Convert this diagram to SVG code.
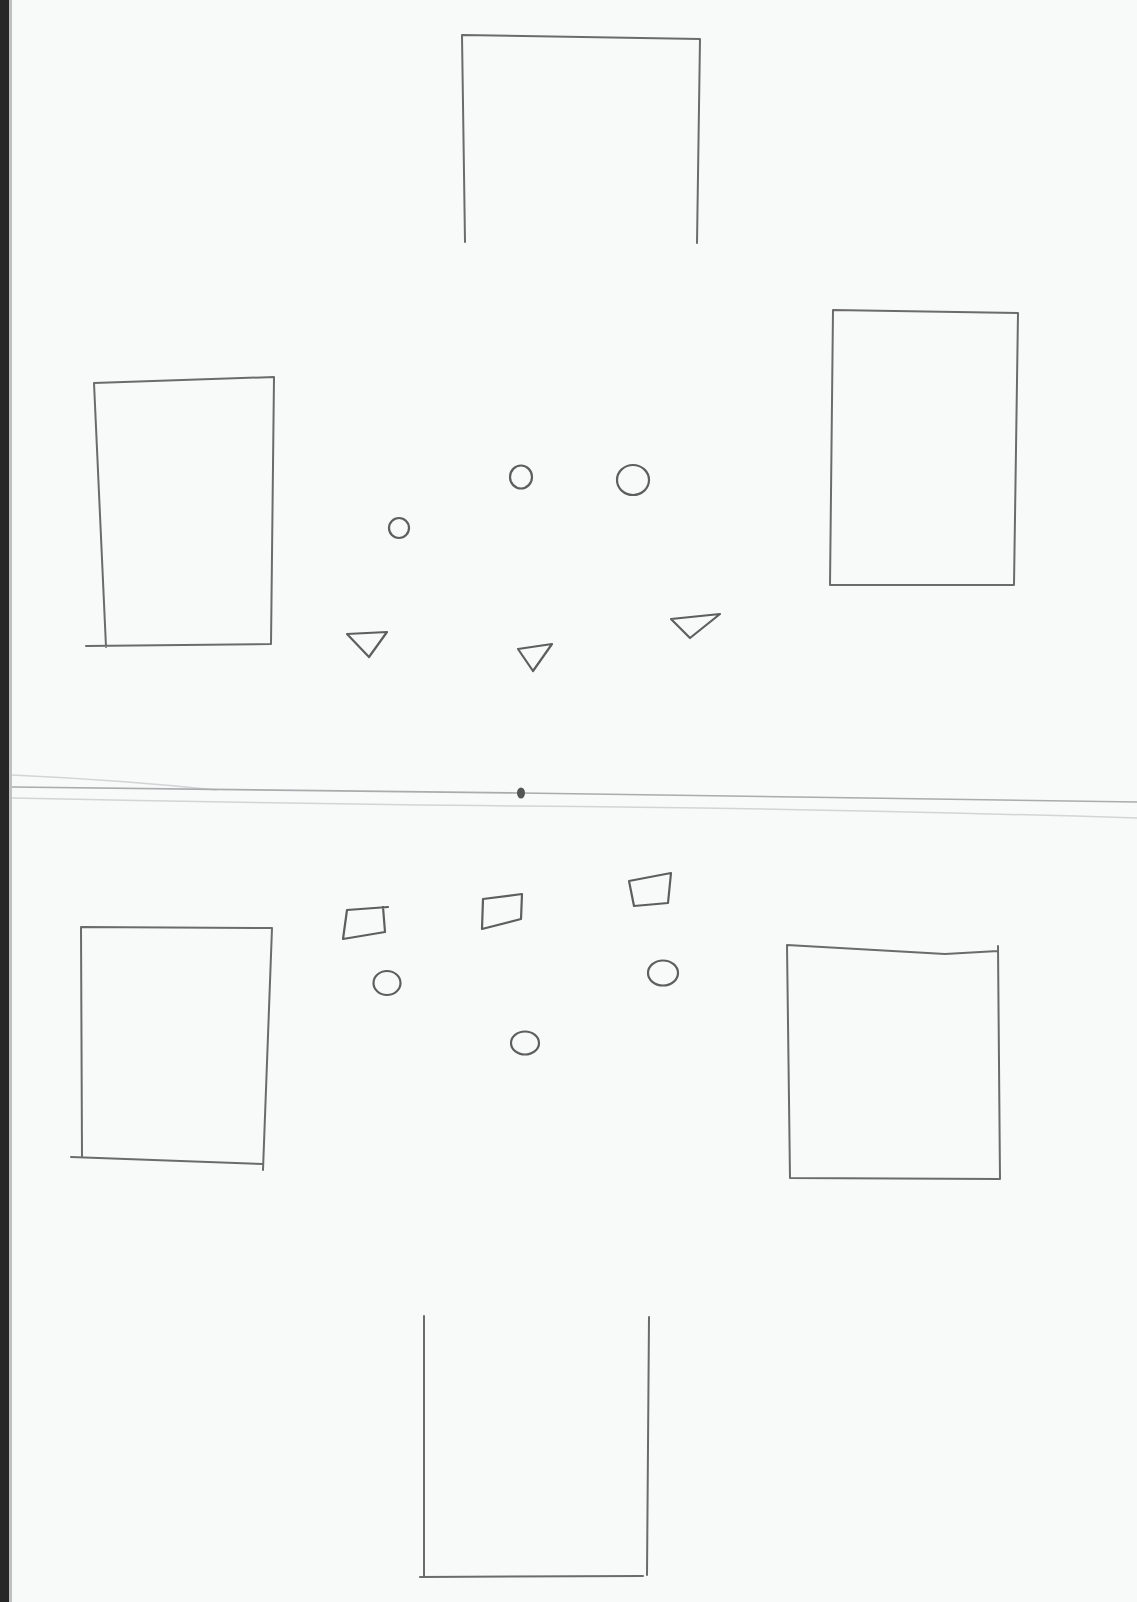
<svg xmlns="http://www.w3.org/2000/svg" width="1137" height="1602" viewBox="0 0 1137 1602">
<style>
.p{fill:none;stroke:#6b6b6b;stroke-width:2;stroke-linecap:round;stroke-linejoin:round}
.s{fill:none;stroke:#5e5e5e;stroke-width:2.2;stroke-linecap:round;stroke-linejoin:round}
.crease{fill:none;stroke:#d2d4d6;stroke-width:1.5}
</style>
<rect x="0" y="0" width="1137" height="1602" fill="#f8f9f9"/>
<rect x="0" y="0" width="9" height="1602" fill="#262626"/>
<rect x="9" y="0" width="3" height="1602" fill="#bfbfbf"/>
<g id="fold">
<path class="crease" d="M12 775 Q120 780 217 790"/>
<path d="M12 787 L521 793 L1137 802" fill="none" stroke="#a9abad" stroke-width="1.6"/>
<path class="crease" d="M12 798 Q300 804 520 806 Q800 808 1137 818"/>
<ellipse cx="521" cy="793" rx="4" ry="5.5" fill="#555"/>
</g>
<g id="top-goal"><path class="p" d="M465 242 L462 35 L700 39 L697 243"/></g>
<g id="bottom-goal"><path class="p" d="M424 1316 L424 1577 M420 1577 L643 1576 M649 1317 L647 1575"/></g>
<g id="left-upper-box"><path class="p" d="M94 383 L274 377 L271 644 M86 646 L271 644 M94 383 L106 647"/></g>
<g id="right-upper-box"><path class="p" d="M833 310 L1018 313 L1014 585 L830 585 Z"/></g>
<g id="left-lower-box"><path class="p" d="M81 927 L272 928 L263 1170 M71 1157 L263 1164 M81 927 L82 1157"/></g>
<g id="right-lower-box"><path class="p" d="M787 945 L945 954 L998 951 M998 946 L1000 1179 M790 1178 L1000 1179 M787 945 L790 1178"/></g>
<g id="circles-top">
<ellipse class="s" cx="521" cy="477" rx="11" ry="11.5"/>
<ellipse class="s" cx="633" cy="480" rx="16" ry="15"/>
<ellipse class="s" cx="399" cy="528" rx="10" ry="10"/>
</g>
<g id="triangles">
<path class="s" d="M347 634 L387 632 L369 657 Z"/>
<path class="s" d="M518 649 L552 644 L533 671 Z"/>
<path class="s" d="M671 619 L720 614 L690 638 Z"/>
</g>
<g id="squares">
<path class="s" d="M347 910 L388 907 M383 907 L385 932 L343 939 L347 910"/>
<path class="s" d="M483 899 L522 894 L521 919 L482 929 Z"/>
<path class="s" d="M629 881 L671 873 L668 903 L634 906 Z"/>
</g>
<g id="circles-bottom">
<ellipse class="s" cx="387" cy="983" rx="13.5" ry="12"/>
<ellipse class="s" cx="663" cy="973" rx="15" ry="12.5"/>
<ellipse class="s" cx="525" cy="1043" rx="14" ry="11.5"/>
</g>
</svg>
